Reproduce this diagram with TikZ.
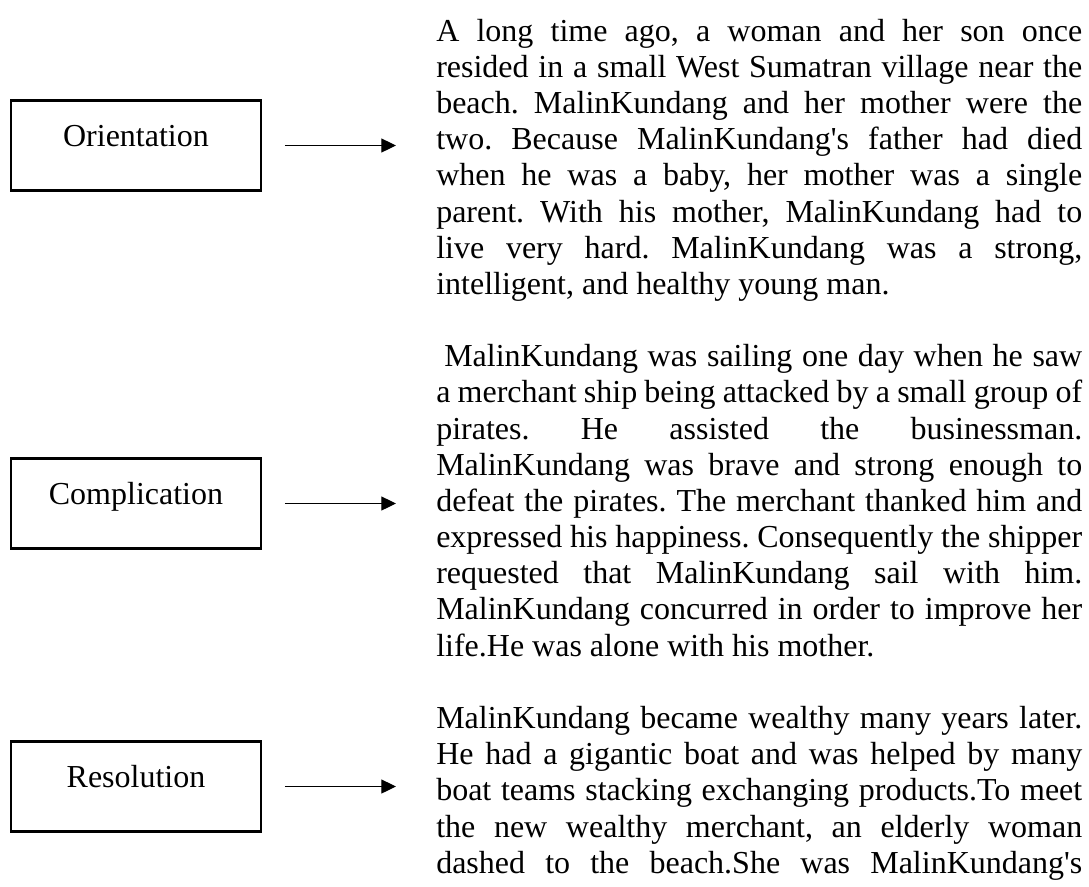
\documentclass[tikz,border=0pt]{standalone}
\usepackage{fontspec}
\setmainfont{Liberation Serif}
\usetikzlibrary{arrows.meta}
\newcommand{\apos}{\textquotesingle}
\frenchspacing
\hyphenpenalty=10000
\exhyphenpenalty=10000

\begin{document}
\begin{tikzpicture}[x=0.75pt,y=-0.75pt,
        every node/.style={font=\fontsize{24}{27.13}\selectfont},
        stagebox/.style={rectangle,draw,line width=1.7pt,minimum width=187.5pt,minimum height=67.5pt,
            inner sep=0pt,text height=16.4pt,text depth=14.9pt},
        story/.style={anchor=north west,inner sep=0pt,text width=484.5pt,align=justify},
        pointer/.style={-{Triangle[length=11pt,width=10.5pt]},line width=0.9pt,
            shorten <=17pt,shorten >=30pt}]
        \useasboundingbox (0,0) rectangle (1089,886);

        % stage boxes
        \node[stagebox] (orient) at (136,145.5) {Orientation};
        \node[stagebox] (complic) at (136,503.5) {Complication};
        \node[stagebox] (resol) at (136,786.5) {Resolution};

        % story texts
        \node[story] (orienttext) at (436,18.8) {
            A long time ago, a woman and her son once\linebreak
            resided in a small West Sumatran village near the\linebreak
            beach. MalinKundang and her mother were the\linebreak
            two. Because MalinKundang\apos s father had died\linebreak
            when he was a baby, her mother was a single\linebreak
            parent. With his mother, MalinKundang had to\linebreak
            live very hard. MalinKundang was a strong,\linebreak
            intelligent, and healthy young man.
        };

        \node[story] (complictext) at (436,344.3) {
            \hspace*{0.25em}MalinKundang was sailing one day when he saw\linebreak
            a merchant ship being attacked by a small group of\linebreak
            pirates. He assisted the businessman.\linebreak
            MalinKundang was brave and strong enough to\linebreak
            defeat the pirates. The merchant thanked him and\linebreak
            expressed his happiness. Consequently the shipper\linebreak
            requested that MalinKundang sail with him.\linebreak
            MalinKundang concurred in order to improve her\linebreak
            life.He was alone with his mother.
        };

        \node[story] (resoltext) at (436,706) {
            MalinKundang became wealthy many years later.\linebreak
            He had a gigantic boat and was helped by many\linebreak
            boat teams stacking exchanging products.To meet\linebreak
            the new wealthy merchant, an elderly woman\linebreak
            \makebox[\linewidth][s]{dashed to the beach.She was MalinKundang\apos s}
        };

        % arrows
        \draw[pointer] (orient.east) -- (orient.east -| orienttext.west);
        \draw[pointer] (complic.east) -- (complic.east -| complictext.west);
        \draw[pointer] (resol.east) -- (resol.east -| resoltext.west);
    \end{tikzpicture}
\end{document}
